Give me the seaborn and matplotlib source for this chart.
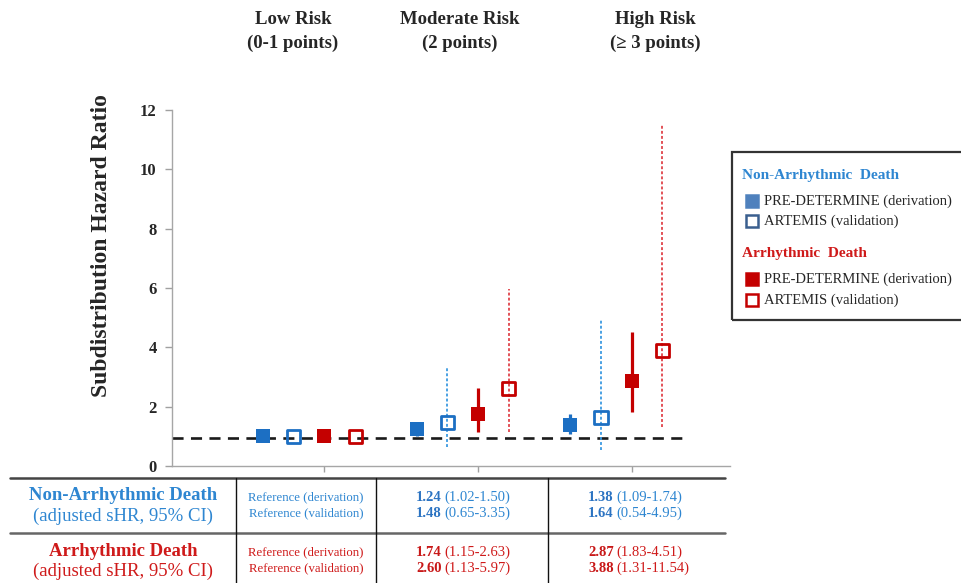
import numpy as np
import pandas as pd
import matplotlib
matplotlib.use("Agg")
import matplotlib.pyplot as plt
from matplotlib.lines import Line2D
from matplotlib.patches import Rectangle
import seaborn as sns

# ---- data -----------------------------------------------------------------
risk_groups = ["Low Risk", "Moderate Risk", "High Risk"]
risk_points = ["(0-1 points)", "(2 points)", "(\u2265 3 points)"]

nonarr_deriv_hr = [1.00, 1.24, 1.38]
nonarr_deriv_lo = [np.nan, 1.02, 1.09]
nonarr_deriv_hi = [np.nan, 1.50, 1.74]

nonarr_valid_hr = [1.00, 1.48, 1.64]
nonarr_valid_lo = [np.nan, 0.65, 0.54]
nonarr_valid_hi = [np.nan, 3.35, 4.95]

arr_deriv_hr = [1.00, 1.74, 2.87]
arr_deriv_lo = [np.nan, 1.15, 1.83]
arr_deriv_hi = [np.nan, 2.63, 4.51]

arr_valid_hr = [1.00, 2.60, 3.88]
arr_valid_lo = [np.nan, 1.13, 1.31]
arr_valid_hi = [np.nan, 5.97, 11.54]

reference_level = 0.93
y_ticks = [0, 2, 4, 6, 8, 10, 12]

# ---- styling --------------------------------------------------------------
BLUE = "#1C6FC3"
BLUE_LIGHT = "#3B9AE1"
BLUE_TEXT = "#2E86D1"
RED = "#C40000"
RED_TEXT = "#CF1A1A"

sns.set_style("white")
plt.rcParams["font.family"] = ["Liberation Serif", "DejaVu Serif"]

W, H = 961, 583
fig = plt.figure(figsize=(W / 100, H / 100), dpi=100)


def fx(x):
    return x / W


def fy(y):
    return 1 - y / H


AX_L, AX_R, AX_T, AX_B = 172, 730, 110, 466
ax = fig.add_axes([fx(AX_L), fy(AX_B), (AX_R - AX_L) / W, (AX_B - AX_T) / H])

series = [
    ("Non-Arrhythmic", "derivation", nonarr_deriv_hr, nonarr_deriv_lo, nonarr_deriv_hi, BLUE, BLUE, True),
    ("Non-Arrhythmic", "validation", nonarr_valid_hr, nonarr_valid_lo, nonarr_valid_hi, BLUE, BLUE_LIGHT, False),
    ("Arrhythmic", "derivation", arr_deriv_hr, arr_deriv_lo, arr_deriv_hi, RED, RED, True),
    ("Arrhythmic", "validation", arr_valid_hr, arr_valid_lo, arr_valid_hi, RED, "#E0434A", False),
]

rows = []
for slot, (outcome, cohort, hr, lo, hi, *_rest) in enumerate(series):
    for g in range(len(risk_groups)):
        rows.append(dict(outcome=outcome, cohort=cohort, group=g,
                         xpos=5 * g + slot, hr=hr[g], lo=lo[g], hi=hi[g]))
df = pd.DataFrame(rows)

# reference line (sHR = 1 level of the low-risk group)
ax.plot([-2.96, 13.8], [reference_level] * 2, color="#1a1a1a", lw=1.9,
        ls=(0, (4.2, 2.8)), zorder=1)

for outcome, cohort, hr, lo, hi, mcolor, wcolor, filled in series:
    sub = df[(df.outcome == outcome) & (df.cohort == cohort)]
    ci = sub.dropna(subset=["lo"])
    if filled:
        ax.vlines(ci.xpos, ci.lo, ci.hi, color=wcolor, lw=2.3, zorder=2)
        sns.scatterplot(data=sub, x="xpos", y="hr", ax=ax, marker="s", s=95,
                        color=mcolor, edgecolor=mcolor, linewidth=0, zorder=3)
    else:
        ax.vlines(ci.xpos, ci.lo, ci.hi, color=wcolor, lw=1.3,
                  linestyles=[(0, (1.6, 1.2))], zorder=2)
        sns.scatterplot(data=sub, x="xpos", y="hr", ax=ax, marker="s", s=90,
                        color=mcolor, facecolor="none", edgecolor=mcolor,
                        linewidth=2.0, zorder=3)

ax.set_xlim(-2.96, 15.2)
ax.set_ylim(0, 12)
ax.set_yticks(y_ticks)
ax.set_yticklabels([str(t) for t in y_ticks], fontsize=12, fontweight="bold")
ax.set_xticks([2, 7, 12])
ax.set_xticklabels([])
ax.set_xlabel("")
ax.set_ylabel("Subdistribution Hazard Ratio", fontsize=17, fontweight="bold")
ax.yaxis.set_label_coords((112 - AX_L) / (AX_R - AX_L),
                          (AX_B - 246) / (AX_B - AX_T))
ax.tick_params(axis="y", length=5, width=1, color="#A0A0A0", pad=6, left=True)
ax.tick_params(axis="x", length=4, width=1, color="#A0A0A0", bottom=True)
for side in ["top", "right"]:
    ax.spines[side].set_visible(False)
for side in ["left", "bottom"]:
    ax.spines[side].set_color("#A6A6A6")
    ax.spines[side].set_linewidth(1.0)
ax.patch.set_alpha(0)

# ---- risk group headers -----------------------------------------------------
header_x = [293, 460, 655]
for name, pts, x in zip(risk_groups, risk_points, header_x):
    fig.text(fx(x), fy(19), name, ha="center", va="center", fontsize=13.5,
             fontweight="bold")
    fig.text(fx(x), fy(43), pts, ha="center", va="center", fontsize=13.5,
             fontweight="bold")

# ---- legend box -------------------------------------------------------------
fig.patches.append(Rectangle((fx(732), fy(320)), (240) / W, (320 - 152) / H,
                             transform=fig.transFigure, fill=False,
                             edgecolor="#333333", lw=1.6))
fig.text(fx(742), fy(175), "Non-Arrhythmic  Death", color=BLUE_TEXT,
         fontsize=11, fontweight="bold", va="center")
fig.text(fx(742), fy(254), "Arrhythmic  Death", color=RED_TEXT,
         fontsize=11, fontweight="bold", va="center")
legend_items = [
    (201, "#4F81BD", "#4F81BD", "PRE-DETERMINE (derivation)"),
    (221, "white", "#3A5F8F", "ARTEMIS (validation)"),
    (279, RED, RED, "PRE-DETERMINE (derivation)"),
    (300, "white", RED, "ARTEMIS (validation)"),
]
for y, fc, ec, label in legend_items:
    fig.patches.append(Rectangle((fx(746), fy(y + 6)), 12 / W, 12 / H,
                                 transform=fig.transFigure, facecolor=fc,
                                 edgecolor=ec, lw=1.8))
    fig.text(fx(764), fy(y), label, fontsize=10.5, va="center")

# ---- table ------------------------------------------------------------------
def hline(y, color, lw):
    fig.add_artist(Line2D([fx(10), fx(725)], [fy(y), fy(y)], color=color,
                          lw=lw, transform=fig.transFigure))


def vline(x):
    fig.add_artist(Line2D([fx(x), fx(x)], [fy(478), fy(584)], color="#111111",
                          lw=1.0, transform=fig.transFigure))


hline(478, "#444444", 1.8)
hline(532.5, "#666666", 1.8)
for x in [236, 376, 548]:
    vline(x)

table_rows = [
    ("Non-Arrhythmic Death", BLUE_TEXT, "#2B73C2", 496, 516,
     [nonarr_deriv_hr, nonarr_valid_hr],
     [nonarr_deriv_lo, nonarr_valid_lo], [nonarr_deriv_hi, nonarr_valid_hi]),
    ("Arrhythmic Death", RED_TEXT, "#C81818", 551, 571,
     [arr_deriv_hr, arr_valid_hr],
     [arr_deriv_lo, arr_valid_lo], [arr_deriv_hi, arr_valid_hi]),
]
line_offsets = [1.5, 17.5]
ref_labels = ["Reference (derivation)", "Reference (validation)"]
value_x = [416, 588]

for title, tcolor, vcolor, y1, y2, hrs, los, his in table_rows:
    fig.text(fx(123), fy(y1), title, ha="center", va="center", color=tcolor,
             fontsize=13.5, fontweight="bold")
    fig.text(fx(123), fy(y2), "(adjusted sHR, 95% CI)", ha="center",
             va="center", color=tcolor, fontsize=13.5)
    for k in range(2):
        yy = y1 + line_offsets[k]
        fig.text(fx(306), fy(yy), ref_labels[k], ha="center", va="center",
                 color=tcolor, fontsize=9.2)
        for g, x0 in zip([1, 2], value_x):
            t = fig.text(fx(x0), fy(yy), f"{hrs[k][g]:.2f}", ha="left",
                         va="center", color=vcolor, fontsize=10.5,
                         fontweight="bold")
            ax.annotate(f"({los[k][g]:.2f}-{his[k][g]:.2f})", xy=(1, 0.5),
                        xycoords=t, xytext=(2.5, 0), textcoords="offset pixels",
                        ha="left", va="center", color=tcolor,
                        fontsize=10.5, annotation_clip=False)

fig.savefig("out.png", dpi=100)
